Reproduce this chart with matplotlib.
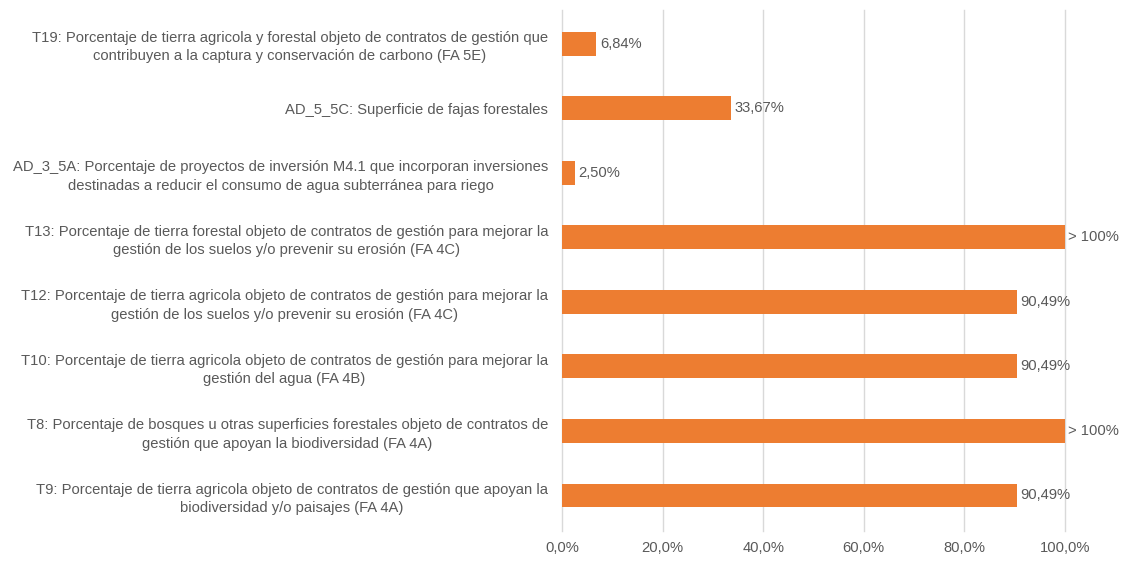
import matplotlib.pyplot as plt
import numpy as np

# indicadores, de arriba a abajo
indicadores = [
    "T19: Porcentaje de tierra agricola y forestal objeto de contratos de gestión que\ncontribuyen a la captura y conservación de carbono (FA 5E)",
    "AD_5_5C: Superficie de fajas forestales",
    "AD_3_5A: Porcentaje de proyectos de inversión M4.1 que incorporan inversiones\ndestinadas a reducir el consumo de agua subterránea para riego",
    "T13: Porcentaje de tierra forestal objeto de contratos de gestión para mejorar la\ngestión de los suelos y/o prevenir su erosión (FA 4C)",
    "T12: Porcentaje de tierra agricola objeto de contratos de gestión para mejorar la\ngestión de los suelos y/o prevenir su erosión (FA 4C)",
    "T10: Porcentaje de tierra agricola objeto de contratos de gestión para mejorar la\ngestión del agua (FA 4B)",
    "T8: Porcentaje de bosques u otras superficies forestales objeto de contratos de\ngestión que apoyan la biodiversidad (FA 4A)",
    "T9: Porcentaje de tierra agricola objeto de contratos de gestión que apoyan la\nbiodiversidad y/o paisajes (FA 4A)",
]
# % ejecucion (los > 100% se dibujan topados a 100)
valores = [6.84, 33.67, 2.50, 100.0, 90.49, 90.49, 100.0, 90.49]
etiquetas = ["6,84%", "33,67%", "2,50%", "> 100%", "90,49%", "90,49%", "> 100%", "90,49%"]
ticks = [0, 20, 40, 60, 80, 100]

naranja = "#ED7D31"
gris = "#595959"
fs = 10.6

plt.rcParams['font.family'] = ['Liberation Sans', 'DejaVu Sans']

fig = plt.figure(figsize=(11.3, 5.61), dpi=100)
ax = fig.add_axes([562 / 1130, 30 / 561, 503 / 1130, 521 / 561])

y = np.arange(len(valores))
ax.barh(y, valores, height=0.37, color=naranja, zorder=3)
ax.set_ylim(len(valores) - 0.45, -0.52)
ax.set_xlim(0, 100)

for yi, v, txt in zip(y, valores, etiquetas):
    ax.annotate(txt, (v, yi), xytext=(2.5, 0), textcoords="offset points",
                va="center", ha="left", fontsize=fs, color=gris)

ax.set_yticks(y)
ax.set_yticklabels(indicadores, fontsize=fs, color=gris,
                   multialignment="center", linespacing=1.4)
ax.tick_params(axis="y", length=0, pad=10)

ax.set_xticks(ticks)
ax.set_xticklabels([f"{t:.1f}%".replace(".", ",") for t in ticks], fontsize=fs, color=gris)
ax.tick_params(axis="x", length=0, pad=7)

ax.grid(axis="x", color="#D9D9D9", linewidth=1, zorder=0)
for gl in ax.get_xgridlines():
    gl.set_clip_on(False)
for s in ax.spines.values():
    s.set_visible(False)

fig.savefig("out.png", dpi=100)
